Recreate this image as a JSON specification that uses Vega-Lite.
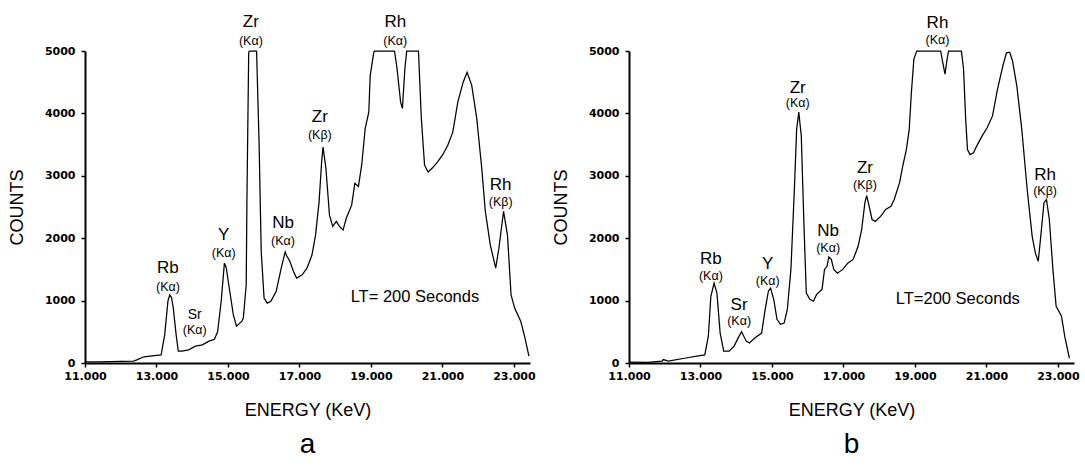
{
  "$schema": "https://vega.github.io/schema/vega-lite/v6.json",
  "background": "white",
  "padding": {"left": 8, "top": 13, "right": 0, "bottom": 0},
  "spacing": 16,
  "datasets": {
    "specA": [
      {"e": 11.0, "c": 20}, {"e": 11.4, "c": 20}, {"e": 12.0, "c": 25}, {"e": 12.36, "c": 30}, {"e": 12.45, "c": 50},
      {"e": 12.65, "c": 100}, {"e": 12.94, "c": 120}, {"e": 13.13, "c": 130}, {"e": 13.23, "c": 450}, {"e": 13.32, "c": 990},
      {"e": 13.37, "c": 1090}, {"e": 13.42, "c": 1050}, {"e": 13.47, "c": 880}, {"e": 13.55, "c": 450}, {"e": 13.61, "c": 190},
      {"e": 13.71, "c": 190}, {"e": 13.9, "c": 210}, {"e": 14.09, "c": 270}, {"e": 14.28, "c": 290}, {"e": 14.47, "c": 350},
      {"e": 14.62, "c": 380}, {"e": 14.71, "c": 500}, {"e": 14.81, "c": 990}, {"e": 14.9, "c": 1600}, {"e": 14.95, "c": 1530},
      {"e": 15.05, "c": 1150}, {"e": 15.15, "c": 770}, {"e": 15.24, "c": 590}, {"e": 15.39, "c": 670}, {"e": 15.43, "c": 720},
      {"e": 15.51, "c": 1250}, {"e": 15.53, "c": 2590}, {"e": 15.58, "c": 4980}, {"e": 15.6, "c": 5000}, {"e": 15.8, "c": 5000},
      {"e": 15.87, "c": 3540}, {"e": 15.93, "c": 1790}, {"e": 16.01, "c": 1040}, {"e": 16.1, "c": 960}, {"e": 16.2, "c": 990},
      {"e": 16.35, "c": 1150}, {"e": 16.49, "c": 1520}, {"e": 16.6, "c": 1780}, {"e": 16.63, "c": 1730}, {"e": 16.73, "c": 1630},
      {"e": 16.83, "c": 1470}, {"e": 16.92, "c": 1360}, {"e": 17.07, "c": 1410}, {"e": 17.21, "c": 1520}, {"e": 17.35, "c": 1730},
      {"e": 17.45, "c": 2050}, {"e": 17.55, "c": 2590}, {"e": 17.62, "c": 3220}, {"e": 17.66, "c": 3460}, {"e": 17.74, "c": 3120},
      {"e": 17.84, "c": 2370}, {"e": 17.93, "c": 2190}, {"e": 18.03, "c": 2270}, {"e": 18.12, "c": 2190}, {"e": 18.22, "c": 2130},
      {"e": 18.31, "c": 2320}, {"e": 18.46, "c": 2530}, {"e": 18.55, "c": 2880}, {"e": 18.65, "c": 2830}, {"e": 18.74, "c": 3170},
      {"e": 18.84, "c": 3760}, {"e": 18.94, "c": 4020}, {"e": 18.98, "c": 4610}, {"e": 19.08, "c": 4980}, {"e": 19.1, "c": 5000},
      {"e": 19.66, "c": 5000}, {"e": 19.73, "c": 4720}, {"e": 19.83, "c": 4180}, {"e": 19.88, "c": 4080}, {"e": 19.95, "c": 4720},
      {"e": 20.0, "c": 5000}, {"e": 20.33, "c": 5000}, {"e": 20.41, "c": 3920}, {"e": 20.5, "c": 3170}, {"e": 20.6, "c": 3060},
      {"e": 20.71, "c": 3120}, {"e": 20.86, "c": 3220}, {"e": 21.0, "c": 3330}, {"e": 21.15, "c": 3490}, {"e": 21.29, "c": 3700},
      {"e": 21.43, "c": 4180}, {"e": 21.58, "c": 4500}, {"e": 21.69, "c": 4660}, {"e": 21.82, "c": 4450}, {"e": 21.96, "c": 3920},
      {"e": 22.1, "c": 3120}, {"e": 22.2, "c": 2430}, {"e": 22.34, "c": 1890}, {"e": 22.49, "c": 1520}, {"e": 22.58, "c": 1840},
      {"e": 22.71, "c": 2430}, {"e": 22.82, "c": 2050}, {"e": 22.92, "c": 1090}, {"e": 23.02, "c": 880}, {"e": 23.19, "c": 670},
      {"e": 23.31, "c": 400}, {"e": 23.42, "c": 110}
    ],
    "specB": [
      {"e": 11.0, "c": 15}, {"e": 11.53, "c": 10}, {"e": 11.92, "c": 30}, {"e": 11.96, "c": 55}, {"e": 12.1, "c": 30},
      {"e": 12.59, "c": 80}, {"e": 12.98, "c": 120}, {"e": 13.12, "c": 130}, {"e": 13.22, "c": 430}, {"e": 13.29, "c": 1070},
      {"e": 13.38, "c": 1280}, {"e": 13.46, "c": 1120}, {"e": 13.55, "c": 480}, {"e": 13.65, "c": 190}, {"e": 13.8, "c": 190},
      {"e": 13.94, "c": 270}, {"e": 14.08, "c": 430}, {"e": 14.15, "c": 500}, {"e": 14.28, "c": 350}, {"e": 14.37, "c": 320},
      {"e": 14.52, "c": 400}, {"e": 14.71, "c": 480}, {"e": 14.81, "c": 860}, {"e": 14.9, "c": 1150}, {"e": 14.96, "c": 1200},
      {"e": 15.05, "c": 1020}, {"e": 15.14, "c": 700}, {"e": 15.24, "c": 620}, {"e": 15.34, "c": 640}, {"e": 15.43, "c": 860},
      {"e": 15.53, "c": 1500}, {"e": 15.63, "c": 2830}, {"e": 15.69, "c": 3740}, {"e": 15.75, "c": 4020}, {"e": 15.82, "c": 3640},
      {"e": 15.89, "c": 2300}, {"e": 15.96, "c": 1120}, {"e": 16.06, "c": 1020}, {"e": 16.16, "c": 990}, {"e": 16.25, "c": 1100},
      {"e": 16.4, "c": 1180}, {"e": 16.47, "c": 1500}, {"e": 16.54, "c": 1550}, {"e": 16.59, "c": 1700}, {"e": 16.66, "c": 1660},
      {"e": 16.73, "c": 1500}, {"e": 16.83, "c": 1440}, {"e": 16.98, "c": 1500}, {"e": 17.12, "c": 1600}, {"e": 17.27, "c": 1660},
      {"e": 17.41, "c": 1870}, {"e": 17.51, "c": 2140}, {"e": 17.6, "c": 2570}, {"e": 17.65, "c": 2680}, {"e": 17.72, "c": 2510},
      {"e": 17.8, "c": 2300}, {"e": 17.89, "c": 2270}, {"e": 18.04, "c": 2350}, {"e": 18.18, "c": 2460}, {"e": 18.33, "c": 2510},
      {"e": 18.42, "c": 2620}, {"e": 18.57, "c": 2890}, {"e": 18.66, "c": 3160}, {"e": 18.76, "c": 3420}, {"e": 18.84, "c": 3740},
      {"e": 18.9, "c": 4330}, {"e": 18.97, "c": 4870}, {"e": 19.05, "c": 5000}, {"e": 19.72, "c": 5000}, {"e": 19.78, "c": 4810},
      {"e": 19.84, "c": 4630}, {"e": 19.9, "c": 4870}, {"e": 19.94, "c": 5000}, {"e": 20.3, "c": 5000}, {"e": 20.36, "c": 4710},
      {"e": 20.42, "c": 3900}, {"e": 20.47, "c": 3420}, {"e": 20.54, "c": 3340}, {"e": 20.64, "c": 3370}, {"e": 20.73, "c": 3480},
      {"e": 20.88, "c": 3640}, {"e": 21.02, "c": 3770}, {"e": 21.17, "c": 3960}, {"e": 21.31, "c": 4390}, {"e": 21.46, "c": 4760},
      {"e": 21.56, "c": 4970}, {"e": 21.65, "c": 4980}, {"e": 21.73, "c": 4840}, {"e": 21.85, "c": 4440}, {"e": 21.99, "c": 3740},
      {"e": 22.14, "c": 2780}, {"e": 22.28, "c": 2030}, {"e": 22.37, "c": 1760}, {"e": 22.45, "c": 1630}, {"e": 22.52, "c": 2030},
      {"e": 22.61, "c": 2570}, {"e": 22.68, "c": 2620}, {"e": 22.76, "c": 2300}, {"e": 22.86, "c": 1500}, {"e": 22.95, "c": 910},
      {"e": 23.1, "c": 750}, {"e": 23.19, "c": 430}, {"e": 23.32, "c": 80}
    ],
    "labA": [
      {"e": 13.32, "c": 1520, "t": "Rb", "role": "el"}, {"e": 13.32, "c": 1225, "t": "(Kα)", "role": "sub"},
      {"e": 14.07, "c": 770, "t": "Sr", "role": "el2"}, {"e": 14.07, "c": 530, "t": "(Kα)", "role": "sub"},
      {"e": 14.88, "c": 2050, "t": "Y", "role": "el"}, {"e": 14.88, "c": 1760, "t": "(Kα)", "role": "sub"},
      {"e": 15.64, "c": 5463, "t": "Zr", "role": "el"}, {"e": 15.64, "c": 5154, "t": "(Kα)", "role": "sub"},
      {"e": 16.54, "c": 2240, "t": "Nb", "role": "el"}, {"e": 16.54, "c": 1950, "t": "(Kα)", "role": "sub"},
      {"e": 17.57, "c": 3940, "t": "Zr", "role": "el"}, {"e": 17.57, "c": 3660, "t": "(Kβ)", "role": "sub"},
      {"e": 19.68, "c": 5463, "t": "Rh", "role": "el"}, {"e": 19.68, "c": 5154, "t": "(Kα)", "role": "sub"},
      {"e": 22.63, "c": 2850, "t": "Rh", "role": "el"}, {"e": 22.63, "c": 2585, "t": "(Kβ)", "role": "sub"},
      {"e": 20.23, "c": 1055, "t": "LT= 200 Seconds", "role": "note"}
    ],
    "labB": [
      {"e": 13.29, "c": 1670, "t": "Rb", "role": "el"}, {"e": 13.29, "c": 1400, "t": "(Kα)", "role": "sub"},
      {"e": 14.08, "c": 935, "t": "Sr", "role": "el"}, {"e": 14.08, "c": 670, "t": "(Kα)", "role": "sub"},
      {"e": 14.88, "c": 1580, "t": "Y", "role": "el"}, {"e": 14.88, "c": 1320, "t": "(Kα)", "role": "sub"},
      {"e": 15.72, "c": 4410, "t": "Zr", "role": "el"}, {"e": 15.72, "c": 4170, "t": "(Kα)", "role": "sub"},
      {"e": 16.57, "c": 2110, "t": "Nb", "role": "el"}, {"e": 16.57, "c": 1845, "t": "(Kα)", "role": "sub"},
      {"e": 17.6, "c": 3130, "t": "Zr", "role": "el"}, {"e": 17.6, "c": 2845, "t": "(Kβ)", "role": "sub"},
      {"e": 19.63, "c": 5450, "t": "Rh", "role": "el"}, {"e": 19.63, "c": 5180, "t": "(Kα)", "role": "sub"},
      {"e": 22.64, "c": 3020, "t": "Rh", "role": "el"}, {"e": 22.64, "c": 2750, "t": "(Kβ)", "role": "sub"},
      {"e": 20.2, "c": 1030, "t": "LT=200 Seconds", "role": "note"}
    ]
  },
  "hconcat": [
    {
      "width": 445, "height": 312,
      "title": {"text": "a", "orient": "bottom"},
      "layer": [
        {"data": {"name": "specA"}, "mark": {"type": "line", "color": "black", "strokeWidth": 1.25},
         "encoding": {
           "x": {"field": "e", "type": "quantitative", "scale": {"domain": [11, 23.45], "nice": false, "zero": false},
                 "axis": {"title": "ENERGY (KeV)", "values": [11, 13, 15, 17, 19, 21, 23], "format": ".3f"}},
           "y": {"field": "c", "type": "quantitative", "scale": {"domain": [0, 5000], "nice": false},
                 "axis": {"title": "COUNTS", "values": [0, 1000, 2000, 3000, 4000, 5000], "format": "d"}}}},
        {"data": {"name": "labA"}, "transform": [{"filter": "datum.role == 'el'"}],
         "mark": {"type": "text", "font": "Liberation Sans", "fontSize": 17, "baseline": "middle", "color": "black"},
         "encoding": {"x": {"field": "e", "type": "quantitative"}, "y": {"field": "c", "type": "quantitative"}, "text": {"field": "t"}}},
        {"data": {"name": "labA"}, "transform": [{"filter": "datum.role == 'el2'"}],
         "mark": {"type": "text", "font": "Liberation Sans", "fontSize": 14, "baseline": "middle", "color": "black"},
         "encoding": {"x": {"field": "e", "type": "quantitative"}, "y": {"field": "c", "type": "quantitative"}, "text": {"field": "t"}}},
        {"data": {"name": "labA"}, "transform": [{"filter": "datum.role == 'sub'"}],
         "mark": {"type": "text", "font": "Liberation Sans", "fontSize": 12.5, "baseline": "middle", "color": "black"},
         "encoding": {"x": {"field": "e", "type": "quantitative"}, "y": {"field": "c", "type": "quantitative"}, "text": {"field": "t"}}},
        {"data": {"name": "labA"}, "transform": [{"filter": "datum.role == 'note'"}],
         "mark": {"type": "text", "font": "Liberation Sans", "fontSize": 16.5, "baseline": "middle", "color": "black"},
         "encoding": {"x": {"field": "e", "type": "quantitative"}, "y": {"field": "c", "type": "quantitative"}, "text": {"field": "t"}}}
      ]
    },
    {
      "width": 445, "height": 312,
      "title": {"text": "b", "orient": "bottom"},
      "layer": [
        {"data": {"name": "specB"}, "mark": {"type": "line", "color": "black", "strokeWidth": 1.25},
         "encoding": {
           "x": {"field": "e", "type": "quantitative", "scale": {"domain": [11, 23.45], "nice": false, "zero": false},
                 "axis": {"title": "ENERGY (KeV)", "values": [11, 13, 15, 17, 19, 21, 23], "format": ".3f"}},
           "y": {"field": "c", "type": "quantitative", "scale": {"domain": [0, 5000], "nice": false},
                 "axis": {"title": "COUNTS", "values": [0, 1000, 2000, 3000, 4000, 5000], "format": "d"}}}},
        {"data": {"name": "labB"}, "transform": [{"filter": "datum.role == 'el'"}],
         "mark": {"type": "text", "font": "Liberation Sans", "fontSize": 17, "baseline": "middle", "color": "black"},
         "encoding": {"x": {"field": "e", "type": "quantitative"}, "y": {"field": "c", "type": "quantitative"}, "text": {"field": "t"}}},
        {"data": {"name": "labB"}, "transform": [{"filter": "datum.role == 'sub'"}],
         "mark": {"type": "text", "font": "Liberation Sans", "fontSize": 12.5, "baseline": "middle", "color": "black"},
         "encoding": {"x": {"field": "e", "type": "quantitative"}, "y": {"field": "c", "type": "quantitative"}, "text": {"field": "t"}}},
        {"data": {"name": "labB"}, "transform": [{"filter": "datum.role == 'note'"}],
         "mark": {"type": "text", "font": "Liberation Sans", "fontSize": 16.5, "baseline": "middle", "color": "black"},
         "encoding": {"x": {"field": "e", "type": "quantitative"}, "y": {"field": "c", "type": "quantitative"}, "text": {"field": "t"}}}
      ]
    }
  ],
  "config": {
    "view": {"stroke": null},
    "axis": {
      "grid": false, "domainColor": "black", "domainWidth": 2, "tickColor": "black", "tickWidth": 1.5, "tickSize": 4,
      "labelFont": "DejaVu Sans", "labelFontWeight": "bold", "labelFontSize": 11, "labelColor": "black", "labelPadding": 3,
      "labelOverlap": false, "labelFlush": false,
      "titleFont": "Liberation Sans", "titleFontWeight": "normal", "titleFontSize": 18, "titleColor": "black"
    },
    "axisX": {"titlePadding": 20},
    "axisY": {"titlePadding": 18, "labelPadding": 6},
    "title": {"font": "Liberation Sans", "fontSize": 28, "fontWeight": "normal", "color": "black", "offset": 12}
  }
}
